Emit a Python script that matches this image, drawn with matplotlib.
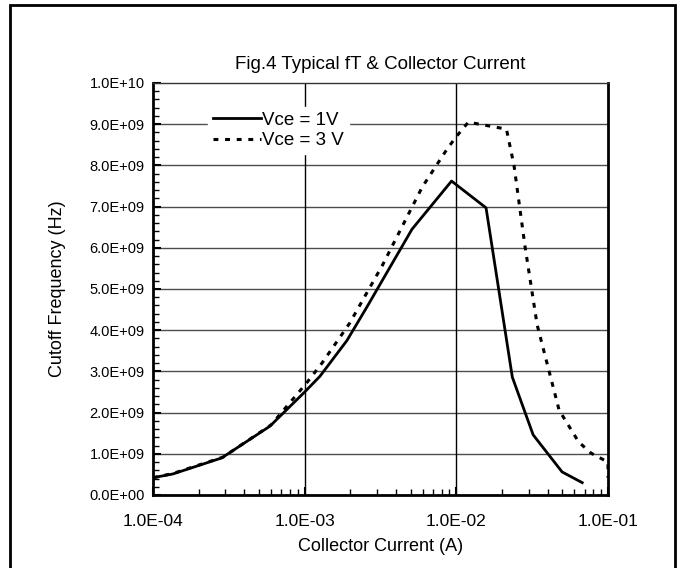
import numpy as np
import matplotlib
matplotlib.use("Agg")
import matplotlib.pyplot as plt
from matplotlib.ticker import FixedLocator, MultipleLocator, FuncFormatter, NullFormatter
from matplotlib.patches import Rectangle

plt.rcParams["font.family"] = ["Liberation Sans", "DejaVu Sans"]

# Vce = 1V
ic_1v = [1.0e-4, 1.35e-4, 2.84e-4, 5.9e-4, 1.0e-3, 1.26e-3, 1.9e-3, 2.57e-3,
         5.1e-3, 9.3e-3, 1.57e-2, 2.34e-2, 3.21e-2, 4.98e-2, 6.76e-2]
ft_1v = [0.42e9, 0.51e9, 0.90e9, 1.67e9, 2.5e9, 2.88e9, 3.75e9, 4.56e9,
         6.45e9, 7.62e9, 6.97e9, 2.86e9, 1.46e9, 0.56e9, 0.30e9]

# Vce = 3V
ic_3v = [1.0e-4, 1.35e-4, 2.9e-4, 6.0e-4, 1.03e-3, 1.3e-3, 1.98e-3, 3.26e-3,
         5.97e-3, 8.7e-3, 1.0e-2, 1.2e-2, 2.14e-2, 2.4e-2, 2.84e-2, 3.41e-2,
         4.76e-2, 6.4e-2, 7.7e-2, 9.4e-2, 1.0e-1, 1.0e-1]
ft_3v = [0.42e9, 0.52e9, 0.92e9, 1.70e9, 2.72e9, 3.2e9, 4.17e9, 5.58e9,
         7.48e9, 8.4e9, 8.7e9, 9.05e9, 8.88e9, 8.0e9, 6.02e9, 4.13e9,
         2.06e9, 1.29e9, 1.02e9, 0.85e9, 0.80e9, 0.42e9]

x_ticks = [1e-4, 1e-3, 1e-2, 1e-1]
x_ticklabels = ["1.0E-04", "1.0E-03", "1.0E-02", "1.0E-01"]
y_ticks = np.arange(0, 11) * 1e9


def ylab(v, p):
    if v <= 0:
        return "0.0E+00"
    e = int(np.floor(np.log10(v) + 1e-9))
    return f"{v / 10**e:.1f}E+{e:02d}"


W, H = 683, 568
fig = plt.figure(figsize=(W / 100, H / 100), dpi=100)
ax = fig.add_axes([153 / W, 1 - 495 / H, (608 - 153) / W, (495 - 83) / H])

ax.set_xscale("log")
ax.set_xlim(1e-4, 1e-1)
ax.set_ylim(0, 1e10)

# grid
for y in y_ticks[1:-1]:
    ax.axhline(y, color="#4d4d4d", lw=1.0, zorder=1)
for x in x_ticks[1:-1]:
    ax.axvline(x, color="black", lw=1.0, zorder=1)

ax.plot(ic_1v, ft_1v, color="black", lw=2.0, label="Vce = 1V", zorder=3)
ax.plot(ic_3v, ft_3v, color="black", lw=2.2, linestyle=(0, (1.6, 2.2)),
        label="Vce = 3 V", zorder=3)

ax.xaxis.set_major_locator(FixedLocator(x_ticks))
ax.set_xticklabels(x_ticklabels)
ax.xaxis.set_minor_formatter(NullFormatter())
ax.yaxis.set_major_locator(FixedLocator(y_ticks))
ax.yaxis.set_minor_locator(MultipleLocator(2e8))
ax.yaxis.set_major_formatter(FuncFormatter(ylab))

ax.tick_params(axis="both", which="both", direction="in")
ax.tick_params(axis="x", which="major", pad=14, labelsize=12.5)
ax.tick_params(axis="y", which="major", pad=6, labelsize=10.5)
ax.tick_params(axis="both", which="major", length=6, width=1.5)
ax.tick_params(axis="both", which="minor", length=4, width=1.0)
ax.tick_params(top=False, right=False)

for side in ["left", "bottom", "right"]:
    ax.spines[side].set_linewidth(2.0)
ax.spines["top"].set_linewidth(1.0)
ax.spines["top"].set_color("#333333")

ax.set_title("Fig.4 Typical fT & Collector Current", fontsize=13.5, pad=10)
ax.set_xlabel("Collector Current (A)", fontsize=13, labelpad=6)
ax.set_ylabel("Cutoff Frequency (Hz)", fontsize=13, labelpad=17)

leg = ax.legend(loc="upper left", bbox_to_anchor=(0.1, 0.965), frameon=True,
                fontsize=13.5, handlelength=2.6, handletextpad=0.05,
                labelspacing=0.2, borderpad=0.25)
leg.get_frame().set_edgecolor("white")
leg.get_frame().set_facecolor("white")
leg.get_frame().set_alpha(1.0)
leg.get_frame().set_boxstyle("square", pad=0.0)
leg.set_zorder(2)

# outer frame
fig.patches.append(Rectangle((10 / W, -0.05), (675 - 10) / W, 1.05 - 5 / H,
                             transform=fig.transFigure, fill=False,
                             edgecolor="black", lw=2.0))

fig.savefig("out.png", dpi=100)
